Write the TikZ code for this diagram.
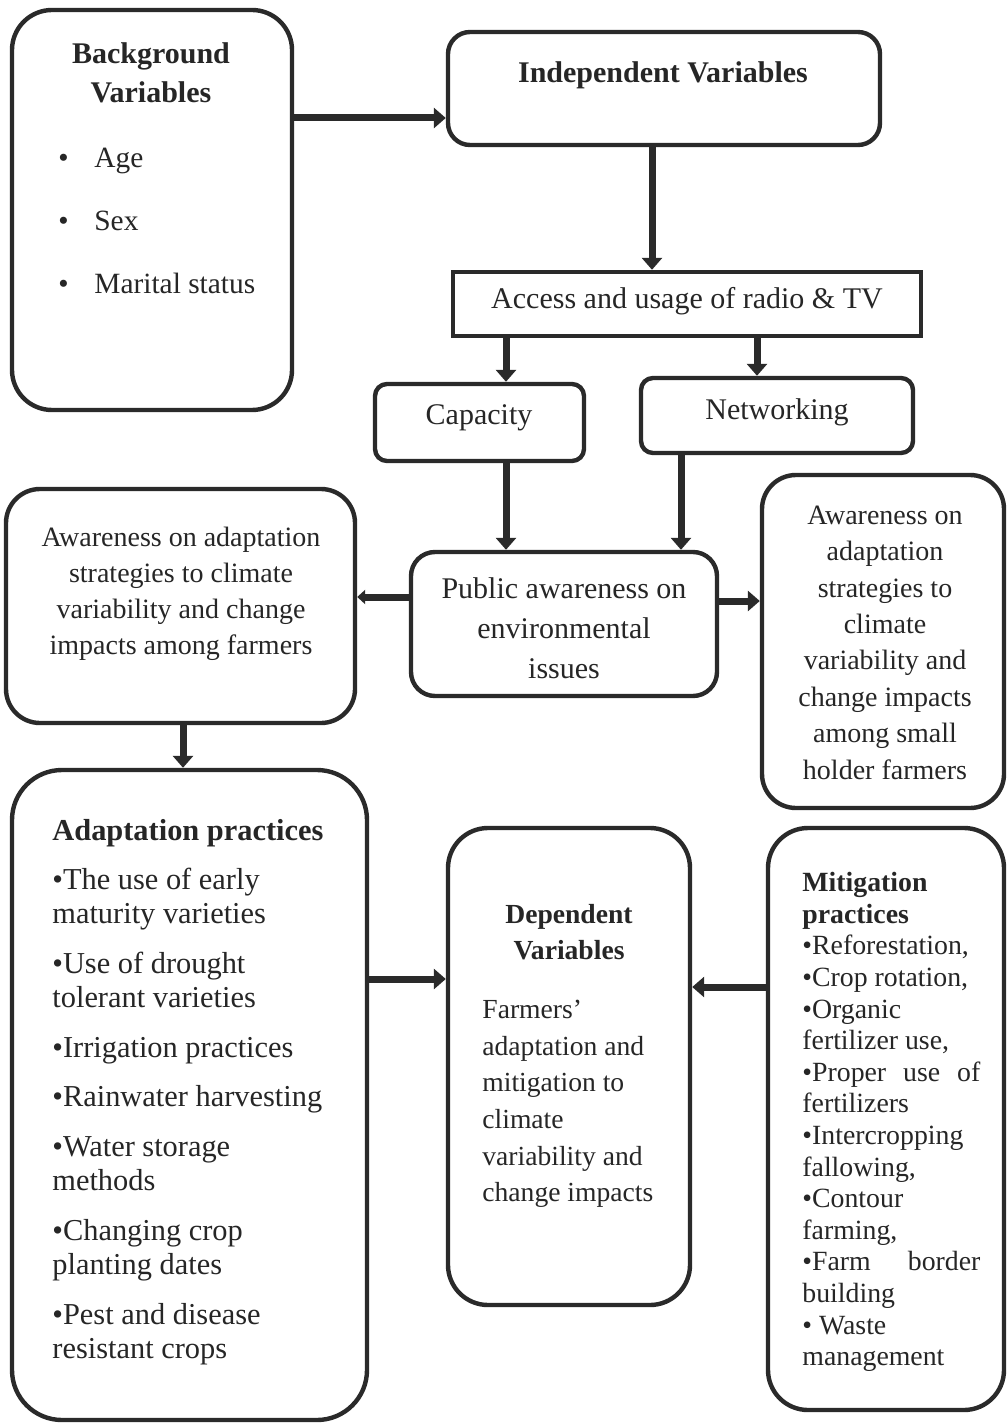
\documentclass[tikz,border=0pt]{standalone}
\usepackage{fontspec}
\setmainfont{Liberation Serif}
\usetikzlibrary{arrows.meta}
\definecolor{ink}{HTML}{2A2A2A}
\definecolor{txt}{HTML}{262626}
\begin{document}
\begin{tikzpicture}[x=0.5pt,y=-0.5pt,
  box/.style={draw=ink, line width=2.2pt, rectangle, inner sep=0pt},
  arr/.style={draw=ink, line width=3.5pt, -{Triangle[length=6pt,width=10pt]}},
  lbl/.style={text=txt, inner sep=0pt},
  fbig/.style={font=\fontsize{15pt}{20pt}\selectfont},
  fbigb/.style={font=\fontsize{15pt}{19.5pt}\selectfont\bfseries},
  fmid/.style={font=\fontsize{14pt}{18pt}\selectfont},
  fsml/.style={font=\fontsize{13.8pt}{18.3pt}\selectfont},
]
\fill[white] (0,0) rectangle (1006,1423);
\useasboundingbox (0,0) rectangle (1006,1423);

% boxes
\node[box, rounded corners=20pt, minimum width=140pt, minimum height=200pt] (bg) at (152,210) {};
\node[box, rounded corners=11pt, minimum width=216pt, minimum height=56.5pt] (iv) at (664,88.5) {};
\node[box, minimum width=234pt, minimum height=32pt] (acc) at (687,304) {};
\node[box, rounded corners=6pt, minimum width=104.5pt, minimum height=38.5pt] (cap) at (479.5,422.5) {};
\node[box, rounded corners=6pt, minimum width=136pt, minimum height=37.5pt] (net) at (777,415.5) {};
\node[box, rounded corners=12pt, minimum width=153pt, minimum height=72pt] (pa) at (564,624) {};
\node[box, rounded corners=17pt, minimum width=174.5pt, minimum height=117pt] (la) at (180.5,606) {};
\node[box, rounded corners=17pt, minimum width=121pt, minimum height=166.5pt] (ra) at (883,641.5) {};
\node[box, rounded corners=25pt, minimum width=177.5pt, minimum height=325pt] (ap) at (189.5,1095) {};
\node[box, rounded corners=20pt, minimum width=121pt, minimum height=238.5pt] (dv) at (569,1066.5) {};
\node[box, rounded corners=20pt, minimum width=118pt, minimum height=291pt] (mp) at (886,1119) {};

% texts
\node[lbl, fbigb, align=center] (bgt) at (151,72.5) {Background\\Variables};
\node[lbl, font=\fontsize{14.7pt}{31.5pt}\selectfont, align=left, anchor=west] (bgl) at (58,220.5)
  {\makebox[18pt][l]{•}Age\\\makebox[18pt][l]{•}Sex\\\makebox[18pt][l]{•}Marital status};
\node[lbl, fbigb] (ivt) at (663,75) {Independent Variables};
\node[lbl, fbig] (acct) at (687,301) {Access and usage of radio \& TV};
\node[lbl, fbig] (capt) at (479,418) {Capacity};
\node[lbl, fbig] (nett) at (777,412) {Networking};
\node[lbl, fbig, align=center] (pat) at (564,628.5) {Public awareness on\\environmental\\issues};
\node[lbl, fmid, align=center] (lat) at (181,594) {Awareness on adaptation\\strategies to climate\\variability and change\\impacts among farmers};
\node[lbl, font=\fontsize{14pt}{18.2pt}\selectfont, align=center] (rat) at (885,642.5) {Awareness on\\adaptation\\strategies to\\climate\\variability and\\change impacts\\among small\\holder farmers};
\node[lbl, font=\fontsize{15.2pt}{17pt}\selectfont, align=left, anchor=west] (apt) at (52,1092)
  {{\bfseries Adaptation practices}\\[7.5pt]
   •The use of early\\maturity varieties\\[8pt]
   •Use of drought\\tolerant varieties\\[8pt]
   •Irrigation practices\\[7.5pt]
   •Rainwater harvesting\\[8pt]
   •Water storage\\methods\\[8pt]
   •Changing crop\\planting dates\\[8pt]
   •Pest and disease\\resistant crops};
\node[lbl, font=\fontsize{13.8pt}{18pt}\selectfont\bfseries, align=center] (dvt) at (569,932) {Dependent\\Variables};
\node[lbl, fsml, align=left, anchor=west] (dvb) at (482,1104) {Farmers’\\adaptation and\\mitigation to\\climate\\variability and\\change impacts};
\node[lbl, font=\fontsize{13.9pt}{15.8pt}\selectfont, text width=89pt, align=flush left, anchor=west] (mpt) at (802,1122)
  {{\bfseries Mitigation}\\{\bfseries practices}\\
   •Reforestation,\\
   •Crop rotation,\\
   •Organic\\
   fertilizer use,\\
   •Proper\hfill use\hfill of\\
   fertilizers\\
   •Intercropping\\
   fallowing,\\
   •Contour\\
   farming,\\
   •Farm\hfill border\\
   building\\
   • Waste\\
   management};

% arrows
\coordinate (p1) at ([yshift=46pt]bg.east);
\draw[arr] (p1) -- (p1 -| iv.west);
\coordinate (p2) at ([xshift=-6pt]iv.south);
\draw[arr] (p2) -- (p2 |- acc.north);
\coordinate (p3) at ([xshift=13.25pt]cap.north);
\draw[arr] (p3 |- acc.south) -- (p3);
\coordinate (p4) at ([xshift=-10pt]net.north);
\draw[arr] (p4 |- acc.south) -- (p4);
\coordinate (p5) at ([xshift=13.25pt]cap.south);
\draw[arr] (p5) -- (p5 |- pa.north);
\coordinate (p6) at ([xshift=-48pt]net.south);
\draw[arr] (p6) -- (p6 |- pa.north);
\coordinate (p7) at ([yshift=13.5pt]pa.west);
\draw[arr, -{Triangle[length=4pt,width=7pt]}] (p7) -- (p7 -| la.east);
\coordinate (p8) at ([yshift=11.5pt]pa.east);
\draw[arr] (p8) -- (p8 -| ra.west);
\coordinate (p9) at ([xshift=1.25pt]la.south);
\draw[arr] (p9) -- (p9 |- ap.north);
\coordinate (p10) at ([yshift=58pt]ap.east);
\draw[arr] (p10) -- (p10 -| dv.west);
\coordinate (p11) at ([yshift=66pt]mp.west);
\draw[arr] (p11) -- (p11 -| dv.east);
\end{tikzpicture}
\end{document}
